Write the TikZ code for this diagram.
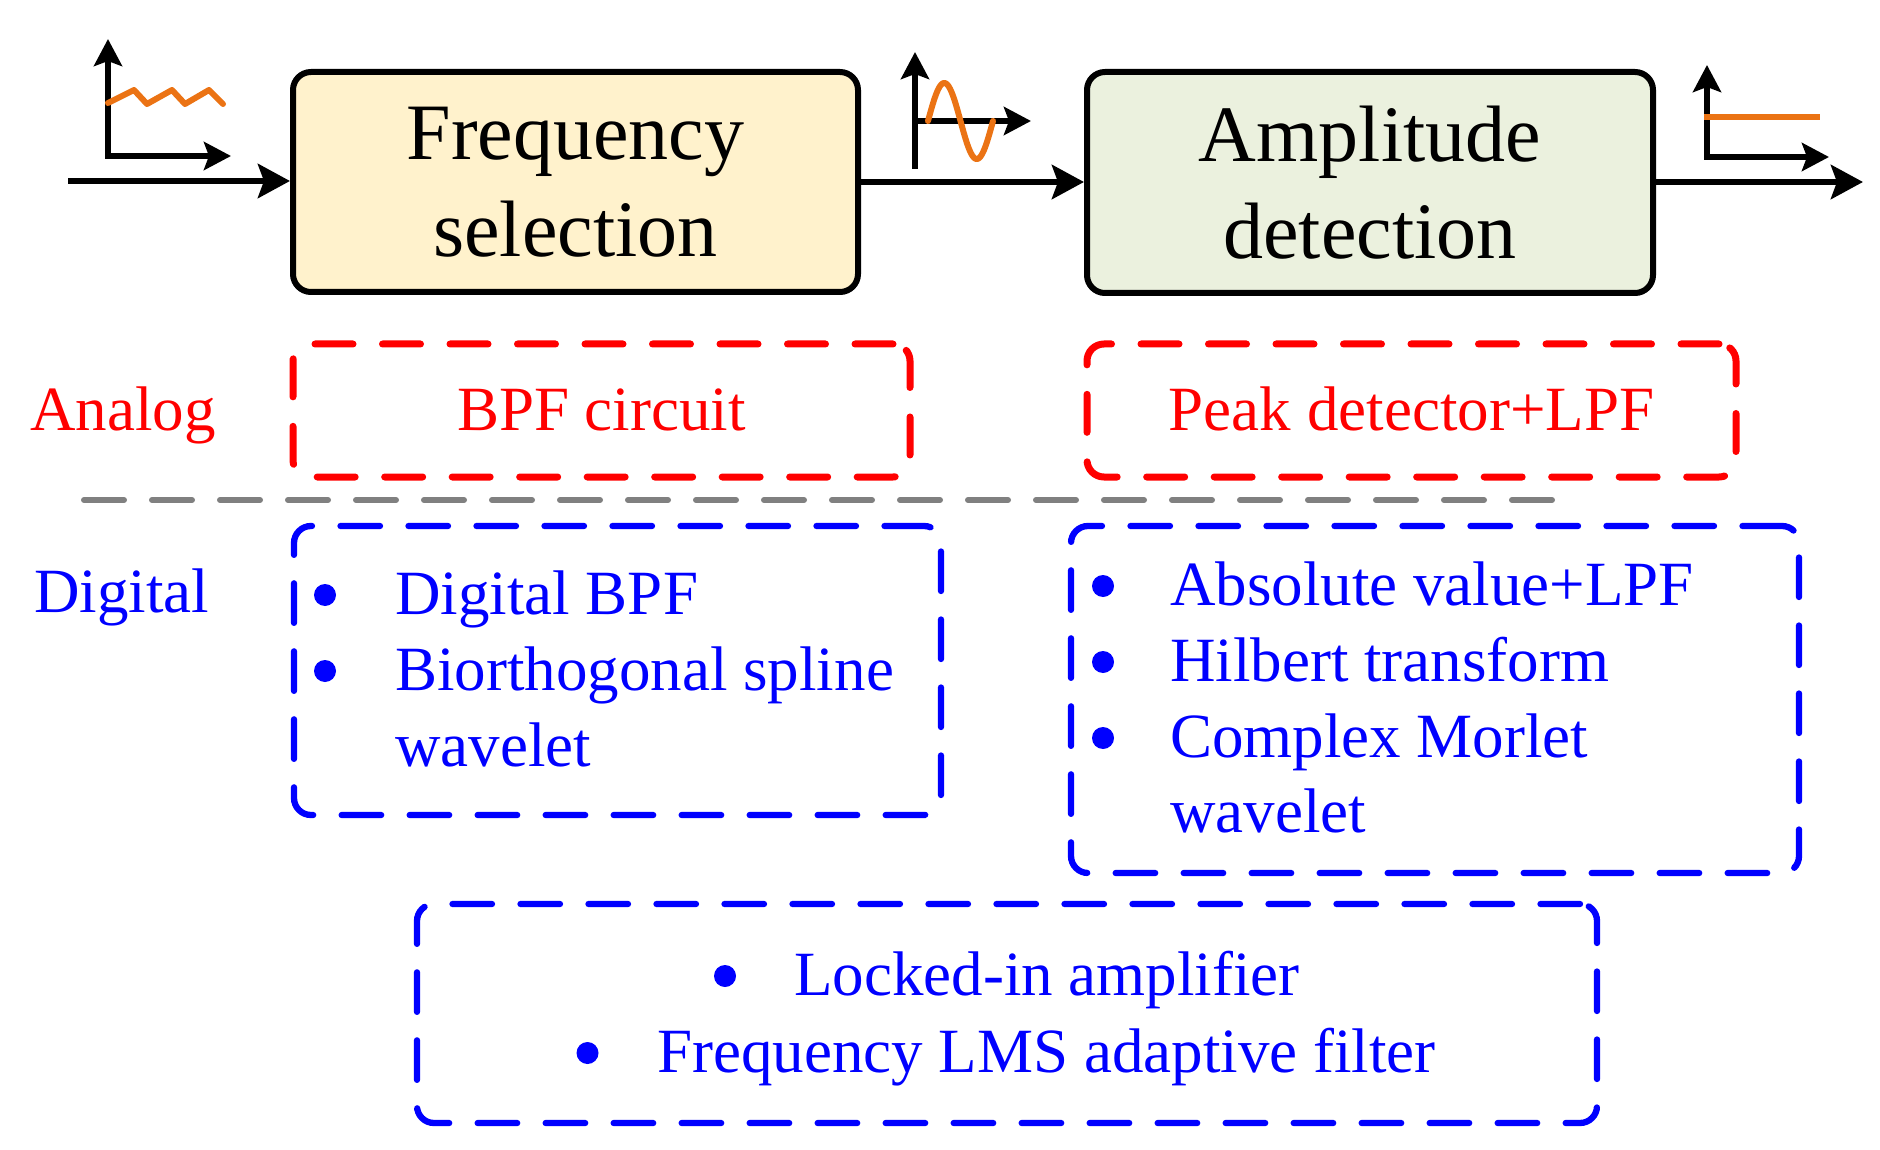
\documentclass[tikz,border=0pt]{standalone}
\usepackage{fontspec}
\setmainfont{Liberation Serif}
\usetikzlibrary{arrows.meta}
\definecolor{orng}{RGB}{235,115,20}
\definecolor{freqfill}{HTML}{FFF2CC}
\definecolor{ampfill}{HTML}{EBF1DE}
\begin{document}
\begin{tikzpicture}[x=1pt,y=-1pt,
  procbox/.style={draw=black, line width=6pt, rounded corners=18pt, align=center,
    font=\fontsize{80}{97}\selectfont, inner sep=0pt},
  flow/.style={line width=6.5pt, -{Stealth[length=32pt,width=34pt,inset=6pt]}},
  axtip/.style={line width=6pt, -{Stealth[length=27pt,width=28pt,inset=5pt]}},
  axboth/.style={line width=6pt, {Stealth[length=27pt,width=28pt,inset=5pt]}-{Stealth[length=27pt,width=28pt,inset=5pt]}},
  sig/.style={draw=orng, line width=6pt, line cap=round, line join=round},
  dbox/.style={line width=6.3pt, dash pattern=on 39.5pt off 28.5pt, line cap=round,
    rounded corners=17pt, inner sep=0pt},
  rbox/.style={dbox, draw=red, line width=7pt, dash pattern=on 38pt off 29.5pt},
  bbox/.style={dbox, draw=blue},
  lbl/.style={font=\fontsize{63}{76}\selectfont, inner sep=0pt, anchor=base},
  lblw/.style={lbl, anchor=base west},
  bul/.style={circle, fill=blue, inner sep=0pt, minimum size=22pt},
]
\useasboundingbox (0,0) rectangle (1880,1150);

% process blocks
\node[procbox, fill=freqfill, minimum width=565pt, minimum height=220pt] (freq) at (575.5,182) {Frequency\\selection};
\node[procbox, fill=ampfill, minimum width=566pt, minimum height=221pt] (amp) at (1370,182.5) {Amplitude\\detection};

\coordinate (in) at (68,181);
\coordinate (out) at (1863,182);
\draw[flow] (in) -- (in -| freq.west);
\draw[flow] (freq.east |- 0,182) -- (amp.west |- 0,182);
\draw[flow] (amp.east |- out) -- (out);

% signal icons
\draw[axboth] (108,39) -- (108,156) -- (231,156);
\draw[sig] (108,103) -- (134,90) -- (147,104) -- (172,90) -- (185,104) -- (209,90) -- (223,104);

\draw[axtip] (915,169) -- (915,52);
\draw[axtip] (915,121) -- (1031,121);
\draw[sig] plot[domain=0:65, samples=80] ({928+\x}, {121-38*sin(\x/65*360)});

\draw[axboth] (1707,65) -- (1707,157) -- (1829,157);
\draw[sig, line width=6.5pt, line cap=butt] (1704,117) -- (1820,117);

% analog
\node[lblw, text=red] (analog) at (30,430) {Analog};
\node[rbox, minimum width=617pt, minimum height=133pt] (bpfbox) at (601.5,410.5) {};
\node[lbl, text=red] (bpf) at (601.5,430) {BPF circuit};
\node[rbox, minimum width=649pt, minimum height=133pt] (peakbox) at (1411.5,410.5) {};
\node[lbl, text=red] (peak) at (1411.5,430) {Peak detector+LPF};

% separator
\coordinate (sepL) at (84,500);
\coordinate (sepR) at (1552,500);
\draw[gray, line width=6pt, dash pattern=on 40pt off 28pt, line cap=round] (sepL) -- (sepR);

% digital
\node[lblw, text=blue] (digital) at (34,612) {Digital};

\node[bbox, minimum width=647pt, minimum height=289pt] (lbox) at (617.5,670.5) {};
\node[bul] (lb1) at (325,595) {};
\node[lblw, text=blue] (l1) at (395,614) {Digital BPF};
\node[bul] (lb2) at (325,671) {};
\node[lblw, text=blue] (l2) at (395,690) {Biorthogonal spline};
\node[lblw, text=blue] (l3) at (395,766) {wavelet};

\node[bbox, minimum width=728pt, minimum height=347pt] (rbox) at (1435,699.5) {};
\node[bul] (rb1) at (1103,586) {};
\node[lblw, text=blue] (r1) at (1170,605) {Absolute value+LPF};
\node[bul] (rb2) at (1103,662) {};
\node[lblw, text=blue] (r2) at (1170,681) {Hilbert transform};
\node[bul] (rb3) at (1103,738) {};
\node[lblw, text=blue] (r3) at (1170,757) {Complex Morlet};
\node[lblw, text=blue] (r4) at (1170,832) {wavelet};

\node[bbox, minimum width=1180pt, minimum height=219pt] (botbox) at (1007,1013.5) {};
\node[bul] (bb1) at (725,976) {};
\node[lblw, text=blue] (b1) at (794,995) {Locked-in amplifier};
\node[bul] (bb2) at (587.5,1053) {};
\node[lblw, text=blue] (b2) at (657,1072) {Frequency LMS adaptive filter};
\end{tikzpicture}
\end{document}
